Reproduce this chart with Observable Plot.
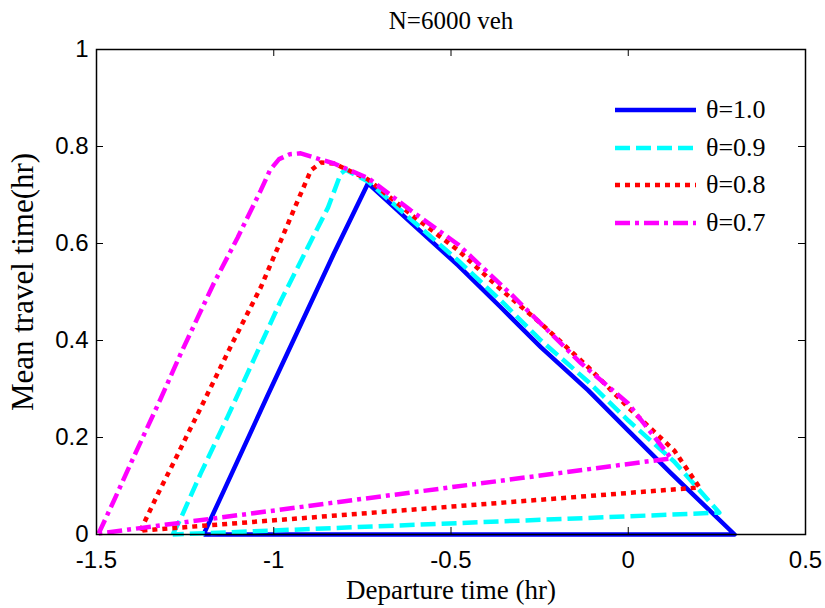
<!DOCTYPE html>
<html>
<head>
<meta charset="utf-8">
<script src="https://cdn.jsdelivr.net/npm/d3@7"></script>
<script src="https://cdn.jsdelivr.net/npm/@observablehq/plot@0.6"></script>
<style>
  html, body { margin: 0; padding: 0; background: #fff; }
  #wrap { position: relative; width: 825px; height: 608px; overflow: hidden; }
  #legend { position: absolute; left: 615px; top: 91px; }
  .row { position: absolute; left: 0; height: 38px; display: flex; align-items: center; white-space: nowrap; }
  .row span { font-family: "Liberation Serif", "Times New Roman", serif; font-size: 26px; color: #000; margin-left: 10px; }
</style>
</head>
<body>
<div id="wrap"><div id="legend"></div></div>
<script>
// ---- data ----
const seriesNames = ["θ=1.0", "θ=0.9", "θ=0.8", "θ=0.7"];
const seriesColors = ["#0000ff", "#00ffff", "#ff0000", "#ff00ff"];
const seriesDash = [null, "15,6", "5,5", "15,5,4,5"];

// θ=1.0
const dep10 = [-1.198, -1.141, -1.017, -0.932, -0.830, -0.734, -0.613, -0.480, -0.359, -0.246, -0.113, 0.000, 0.121, 0.300, -1.198];
const tt10  = [0.000, 0.090, 0.287, 0.420, 0.580, 0.724, 0.643, 0.555, 0.468, 0.386, 0.297, 0.214, 0.126, 0.000, 0.000];
// θ=0.9
const dep09 = [-1.285, -1.263, -1.206, -1.130, -1.056, -0.980, -0.904, -0.847, -0.811, -0.797, -0.734, -0.613, -0.480, -0.359, -0.246, -0.113, 0.000, 0.130, 0.257, -1.285];
const tt09  = [0.000, 0.032, 0.126, 0.243, 0.361, 0.482, 0.592, 0.674, 0.744, 0.752, 0.728, 0.650, 0.565, 0.482, 0.400, 0.315, 0.235, 0.150, 0.045, 0.000];
// θ=0.8
const dep08 = [-1.376, -1.328, -1.271, -1.186, -1.113, -1.037, -0.980, -0.932, -0.895, -0.867, -0.830, -0.734, -0.613, -0.480, -0.359, -0.246, -0.113, 0.000, 0.130, 0.201, -1.376];
const tt08  = [0.008, 0.082, 0.165, 0.291, 0.400, 0.509, 0.606, 0.689, 0.751, 0.767, 0.765, 0.732, 0.660, 0.586, 0.505, 0.435, 0.345, 0.262, 0.173, 0.097, 0.008];
// θ=0.7
const dep07 = [-1.494, -1.452, -1.395, -1.319, -1.263, -1.169, -1.102, -1.037, -1.010, -0.985, -0.955, -0.924, -0.876, -0.830, -0.734, -0.613, -0.480, -0.330, -0.133, 0.000, 0.121, -1.494];
const tt07  = [0.002, 0.068, 0.160, 0.280, 0.372, 0.518, 0.612, 0.709, 0.752, 0.774, 0.784, 0.786, 0.775, 0.765, 0.735, 0.668, 0.598, 0.495, 0.353, 0.270, 0.157, 0.002];

const xTicks = [-1.5, -1, -0.5, 0, 0.5];
const xTickLabels = ["-1.5", "-1", "-0.5", "0", "0.5"];
const yTicks = [0, 0.2, 0.4, 0.6, 0.8, 1];
const yTickLabels = ["0", "0.2", "0.4", "0.6", "0.8", "1"];

const titleText = "N=6000 veh";
const xLabel = "Departure time (hr)";
const yLabel = "Mean travel time(hr)";

// ---- build tables ----
const deps = [dep10, dep09, dep08, dep07];
const tts = [tt10, tt09, tt08, tt07];
const tables = deps.map((d, k) => d.map((x, i) => ({x, y: tts[k][i], s: seriesNames[k]})));

const W = 825, H = 608, mL = 96, mR = 20, mT = 49, mB = 74;
const fw = W - mL - mR, fh = H - mT - mB, tl = 7;
const serif = "Liberation Serif, Times New Roman, serif";
const sans = "Liberation Sans, Arial, sans-serif";

const lineMarks = tables.map((t, k) => Plot.line(t, {
  x: "x", y: "y", stroke: seriesColors[k], strokeWidth: 4.5,
  strokeDasharray: seriesDash[k] || undefined,
  strokeLinecap: "butt", strokeLinejoin: "round"
}));

const chart = Plot.plot({
  width: W, height: H,
  marginLeft: mL, marginRight: mR, marginTop: mT, marginBottom: mB,
  x: {domain: [-1.5, 0.5]},
  y: {domain: [0, 1]},
  style: {background: "white", color: "black", overflow: "visible"},
  marks: [
    ...lineMarks,
    Plot.frame({stroke: "black", strokeWidth: 1.5}),
    Plot.tickX(xTicks, {x: d => d, insetTop: fh - tl, stroke: "black", strokeWidth: 1}),
    Plot.tickX(xTicks, {x: d => d, insetBottom: fh - tl, stroke: "black", strokeWidth: 1}),
    Plot.tickY(yTicks, {y: d => d, insetRight: fw - tl, stroke: "black", strokeWidth: 1}),
    Plot.tickY(yTicks, {y: d => d, insetLeft: fw - tl, stroke: "black", strokeWidth: 1}),
    Plot.axisX(xTicks, {tickSize: 0, tickPadding: 16, tickFormat: d => xTickLabels[xTicks.indexOf(d)],
      fontSize: 24, fontFamily: sans, label: null}),
    Plot.axisY(yTicks, {tickSize: 0, tickPadding: 8, tickFormat: d => yTickLabels[yTicks.indexOf(d)],
      fontSize: 24, fontFamily: sans, label: null}),
    Plot.text([titleText], {text: d => d, frameAnchor: "top", lineAnchor: "middle", textAnchor: "middle",
      dy: -29, fontSize: 25, fontFamily: serif, fill: "black"}),
    Plot.text([xLabel], {text: d => d, frameAnchor: "bottom", lineAnchor: "middle", textAnchor: "middle",
      dy: 56, fontSize: 27, fontFamily: serif, fill: "black"}),
    Plot.text([yLabel], {text: d => d, frameAnchor: "left", lineAnchor: "middle", textAnchor: "middle",
      rotate: -90, dx: -73, dy: -10, fontSize: 31, fontFamily: serif, fill: "black"})
  ]
});

const wrap = document.getElementById("wrap");
wrap.insertBefore(chart, wrap.firstChild);

// ---- legend ----
const legend = document.getElementById("legend");
const rowTops = [0, 38, 75, 113];
seriesNames.forEach((name, k) => {
  const row = document.createElement("div");
  row.className = "row";
  row.style.top = rowTops[k] + "px";
  const ns = "http://www.w3.org/2000/svg";
  const svg = document.createElementNS(ns, "svg");
  svg.setAttribute("width", 81); svg.setAttribute("height", 10);
  const ln = document.createElementNS(ns, "line");
  ln.setAttribute("x1", 0); ln.setAttribute("x2", 81);
  ln.setAttribute("y1", 5); ln.setAttribute("y2", 5);
  ln.setAttribute("stroke", seriesColors[k]); ln.setAttribute("stroke-width", 4.5);
  if (seriesDash[k]) ln.setAttribute("stroke-dasharray", seriesDash[k]);
  svg.appendChild(ln);
  const sp = document.createElement("span");
  sp.textContent = name;
  row.appendChild(svg); row.appendChild(sp);
  legend.appendChild(row);
});
</script>
</body>
</html>
